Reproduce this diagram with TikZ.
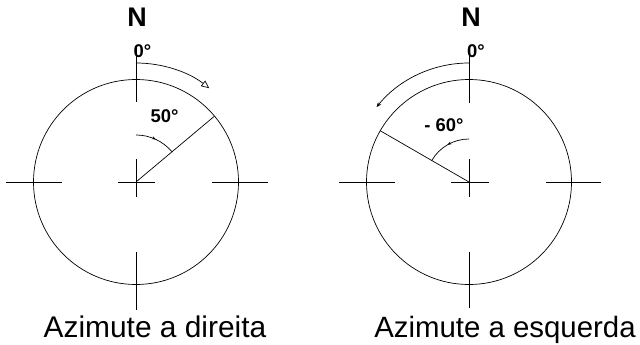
\documentclass[tikz,border=0pt]{standalone}
\usepackage{fontspec}
\setmainfont{Liberation Sans}
\usetikzlibrary{arrows.meta,decorations.markings,calc}
\tikzset{
  ln/.style={line width=0.7bp, black},
  midarrow/.style={postaction={decorate},decoration={markings,
     mark=at position 0.5 with {\arrow{Stealth[length=4bp,width=3bp]}}}},
  deg/.style={font=\fontsize{18.5}{18.5}\selectfont\bfseries, inner sep=0pt},
  north/.style={font=\fontsize{27}{27}\selectfont\bfseries, inner sep=0pt},
  caption/.style={font=\fontsize{29.5}{29.5}\selectfont, inner sep=0pt, anchor=base}
}
\begin{document}
\begin{tikzpicture}[x=1bp,y=1bp]
\useasboundingbox (0,0) rectangle (640,344);
% ---------- left diagram ----------
\coordinate (cL) at (136,162);
\draw[ln] (cL) circle[radius=102.5bp];
\coordinate (tLa) at (136,297); \coordinate (tLb) at (136,242);
\coordinate (bLa) at (136,92);  \coordinate (bLb) at (136,34);
\coordinate (lLa) at (6,162);   \coordinate (lLb) at (62,162);
\coordinate (rLa) at (212,162); \coordinate (rLb) at (268,162);
\coordinate (hLa) at (118,162); \coordinate (hLb) at (155,162);
\coordinate (vLa) at (136,185); \coordinate (vLb) at (136,147);
\draw[ln] (tLa) -- (tLb);
\draw[ln] (bLa) -- (bLb);
\draw[ln] (lLa) -- (lLb);
\draw[ln] (rLa) -- (rLb);
\draw[ln] (hLa) -- (hLb);
\draw[ln] (vLa) -- (vLb);
\draw[ln] (cL) -- ++(40:102.5bp);
\draw[ln,midarrow] ($(cL)+(90:47bp)$) arc[start angle=90,end angle=40,radius=47bp];
\draw[ln,-{Triangle[open,length=8bp,width=7bp]}] ($(cL)+(90:119bp)$) arc[start angle=90,end angle=52,radius=119bp];
\node[north] (NL) at (137,326.5) {N};
\node[deg] (zL) at (142.5,292.5) {0°};
\node[deg] (aL) at (164.5,227.5) {50°};
\node[caption,font=\fontsize{30}{30}\selectfont] (capL) at (155,7) {Azimute a direita};
% ---------- right diagram ----------
\coordinate (cR) at (469,162);
\draw[ln] (cR) circle[radius=102.5bp];
\coordinate (tRa) at (469,297); \coordinate (tRb) at (469,241);
\coordinate (bRa) at (469,92);  \coordinate (bRb) at (469,36);
\coordinate (lRa) at (339,162); \coordinate (lRb) at (395,162);
\coordinate (rRa) at (546,162); \coordinate (rRb) at (601,162);
\coordinate (hRa) at (451,162); \coordinate (hRb) at (489,162);
\coordinate (vRa) at (469,185); \coordinate (vRb) at (469,147);
\draw[ln] (tRa) -- (tRb);
\draw[ln] (bRa) -- (bRb);
\draw[ln] (lRa) -- (lRb);
\draw[ln] (rRa) -- (rRb);
\draw[ln] (hRa) -- (hRb);
\draw[ln] (vRa) -- (vRb);
\draw[ln] (cR) -- ++(150:102.5bp);
\draw[ln,midarrow] ($(cR)+(90:43bp)$) arc[start angle=90,end angle=150,radius=43bp];
\draw[ln,-{Stealth[length=5bp,width=4bp]}] ($(cR)+(90:119bp)$) arc[start angle=90,end angle=141,radius=119bp];
\node[north] (NR) at (471,326.5) {N};
\node[deg] (zR) at (476,292.5) {0°};
\node[deg] (aR) at (444,218.5) {- 60°};
\node[caption] (capR) at (505,7) {Azimute a esquerda};
\end{tikzpicture}
\end{document}
